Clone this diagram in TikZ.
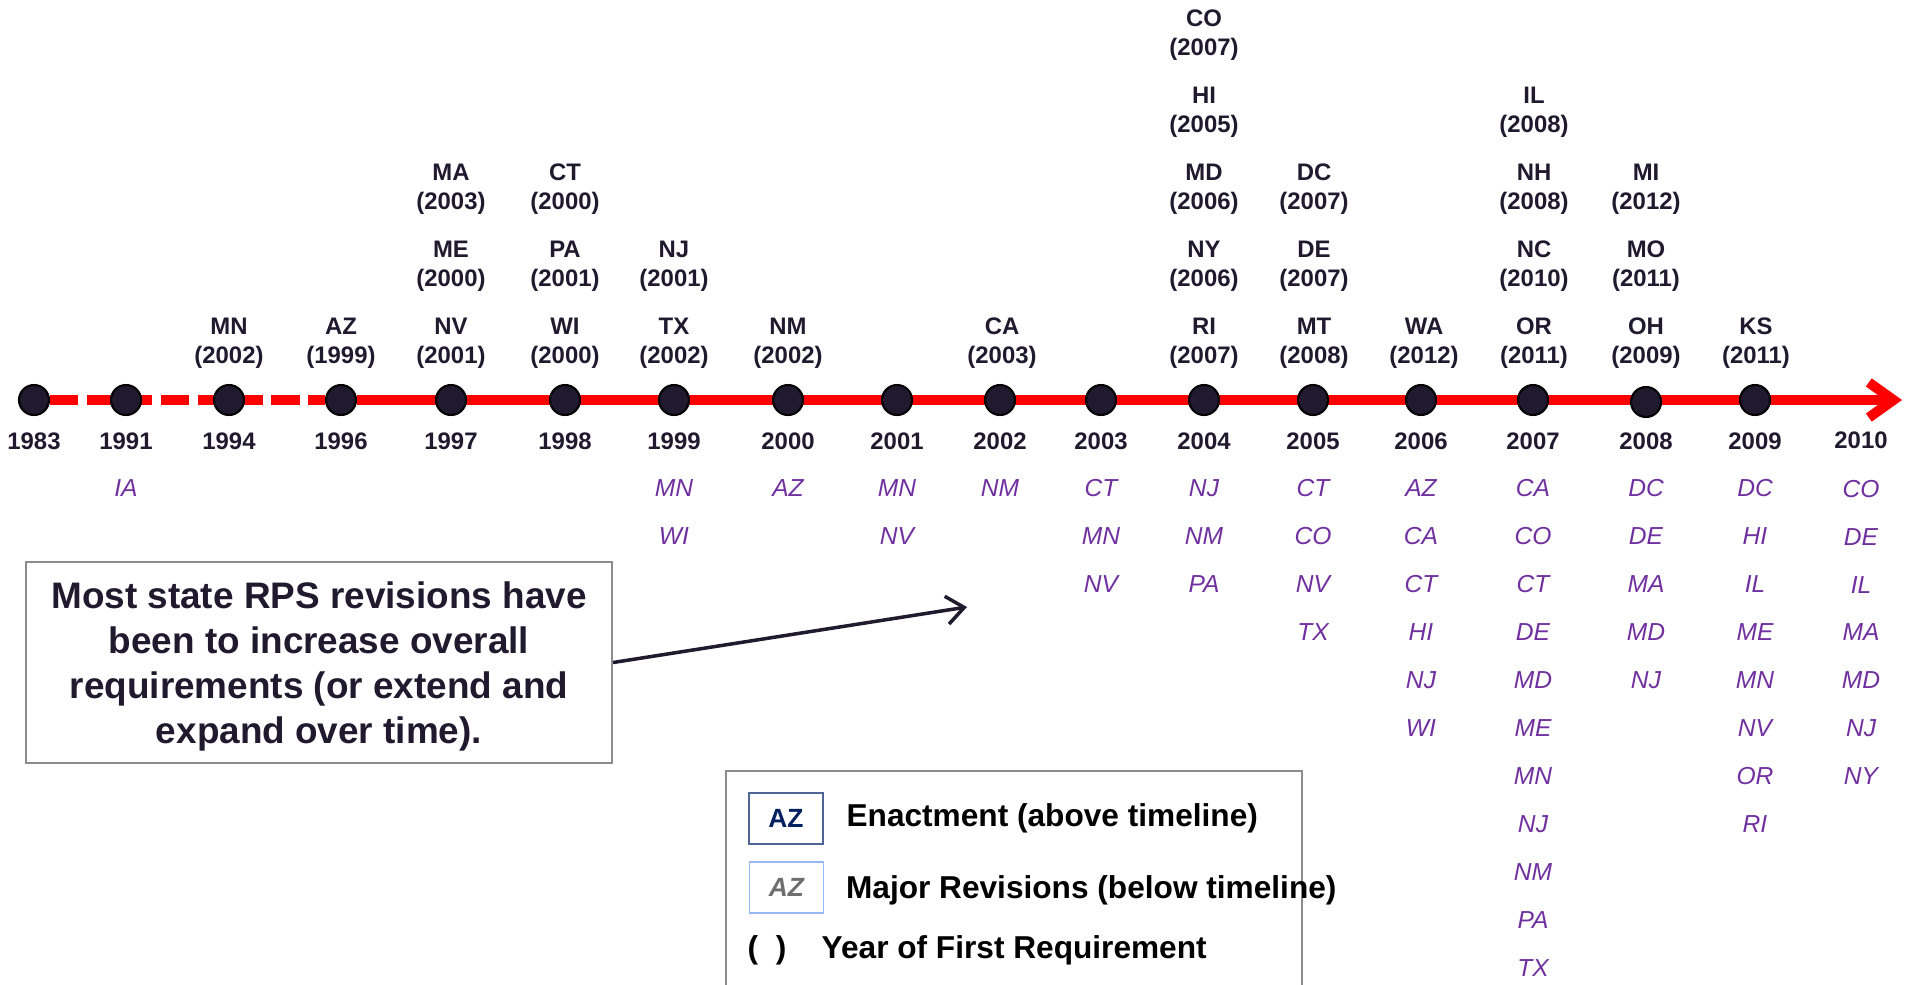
\documentclass[tikz,border=0pt]{standalone}
\usepackage{fontspec}
\setmainfont{Liberation Sans}
\usetikzlibrary{arrows.meta,backgrounds,positioning}

\definecolor{tlred}{RGB}{255,0,0}
\definecolor{ink}{RGB}{31,26,46}
\definecolor{revpurple}{RGB}{112,48,160}
\definecolor{navyblue}{RGB}{0,32,96}
\definecolor{framegray}{RGB}{140,140,140}
\definecolor{boxblue}{RGB}{150,185,245}
\definecolor{boxnavy}{RGB}{80,100,150}
\definecolor{keygray}{RGB}{110,110,110}

\tikzset{
  dot/.style={circle, draw=black, line width=0.6pt, fill=ink, minimum size=0.30cm, inner sep=0pt},
  yearlabel/.style={font=\fontsize{6.8}{8}\selectfont\bfseries, text=ink, inner sep=0pt},
  enact/.style={font=\fontsize{6.8}{8.25}\selectfont\bfseries, text=ink, align=center, inner sep=0pt},
  revision/.style={font=\fontsize{7}{13.65}\selectfont\itshape, text=revpurple, align=center, inner sep=0pt},
  timeline/.style={tlred, line width=2.85pt},
  callout/.style={draw=framegray, line width=0.6pt, fill=white, minimum width=5.86cm, minimum height=2.01cm,
    align=center, inner sep=0pt, text=ink, font=\fontsize{10.5}{12.8}\selectfont\bfseries},
  pointer/.style={ink, line width=1pt, -{Straight Barb[length=5pt,width=8pt]}},
  keybox/.style={minimum width=0.74cm, minimum height=0.51cm, inner sep=0pt, line width=0.5pt,
    font=\fontsize{7.5}{9}\selectfont\bfseries},
  legendtext/.style={font=\fontsize{9}{11}\selectfont\bfseries, text=black, inner sep=0pt, anchor=west},
}

\begin{document}
\begin{tikzpicture}
  \useasboundingbox (0,0) rectangle (19.12,-9.84);

  % Timeline dots
  \node[dot] (y1983) at (0.34,-4.00) {};
  \node[dot] (y1991) at (1.26,-4.00) {};
  \node[dot] (y1994) at (2.29,-4.00) {};
  \node[dot] (y1996) at (3.41,-4.00) {};
  \node[dot] (y1997) at (4.51,-4.00) {};
  \node[dot] (y1998) at (5.65,-4.00) {};
  \node[dot] (y1999) at (6.74,-4.00) {};
  \node[dot] (y2000) at (7.88,-4.00) {};
  \node[dot] (y2001) at (8.97,-4.00) {};
  \node[dot] (y2002) at (10.00,-4.00) {};
  \node[dot] (y2003) at (11.01,-4.00) {};
  \node[dot] (y2004) at (12.04,-4.00) {};
  \node[dot] (y2005) at (13.13,-4.00) {};
  \node[dot] (y2006) at (14.21,-4.00) {};
  \node[dot] (y2007) at (15.33,-4.00) {};
  \node[dot] (y2008) at (16.46,-4.02) {};
  \node[dot] (y2009) at (17.55,-4.00) {};
  \coordinate (tlend) at (19.02,-4.00);

  % Red line under the dots
  \begin{scope}[on background layer]
    \draw[timeline, dash pattern=on 8pt off 2.5pt] (y1983) -- (y1996);
    \draw[timeline, -{Straight Barb[length=7pt,width=10pt]}] (y1996) -- (tlend);
  \end{scope}

  % Year labels
  \node[yearlabel, below=0.165cm of y1983] (l1983) {1983};
  \node[yearlabel, below=0.165cm of y1991] (l1991) {1991};
  \node[yearlabel, below=0.165cm of y1994] (l1994) {1994};
  \node[yearlabel, below=0.165cm of y1996] (l1996) {1996};
  \node[yearlabel, below=0.165cm of y1997] (l1997) {1997};
  \node[yearlabel, below=0.165cm of y1998] (l1998) {1998};
  \node[yearlabel, below=0.165cm of y1999] (l1999) {1999};
  \node[yearlabel, below=0.165cm of y2000] (l2000) {2000};
  \node[yearlabel, below=0.165cm of y2001] (l2001) {2001};
  \node[yearlabel, below=0.165cm of y2002] (l2002) {2002};
  \node[yearlabel, below=0.165cm of y2003] (l2003) {2003};
  \node[yearlabel, below=0.165cm of y2004] (l2004) {2004};
  \node[yearlabel, below=0.165cm of y2005] (l2005) {2005};
  \node[yearlabel, below=0.165cm of y2006] (l2006) {2006};
  \node[yearlabel, below=0.165cm of y2007] (l2007) {2007};
  \node[yearlabel, below=0.145cm of y2008] (l2008) {2008};
  \node[yearlabel, below=0.165cm of y2009] (l2009) {2009};
  \node[yearlabel] (l2010) at (18.61,-4.40) {2010};

  % Enactments (above timeline)
  \node[enact] (enMN) at (2.29,-3.435) {MN\\(2002)};
  \node[enact] (enAZ) at (3.41,-3.435) {AZ\\(1999)};
  \node[enact] (enNV) at (4.51,-3.435) {NV\\(2001)};
  \node[enact] (enME) at (4.51,-2.665) {ME\\(2000)};
  \node[enact] (enMA) at (4.51,-1.895) {MA\\(2003)};
  \node[enact] (enWI) at (5.65,-3.435) {WI\\(2000)};
  \node[enact] (enPA) at (5.65,-2.665) {PA\\(2001)};
  \node[enact] (enCT) at (5.65,-1.895) {CT\\(2000)};
  \node[enact] (enTX) at (6.74,-3.435) {TX\\(2002)};
  \node[enact] (enNJ) at (6.74,-2.665) {NJ\\(2001)};
  \node[enact] (enNM) at (7.88,-3.435) {NM\\(2002)};
  \node[enact] (enCA) at (10.02,-3.435) {CA\\(2003)};
  \node[enact] (enRI) at (12.04,-3.435) {RI\\(2007)};
  \node[enact] (enNY) at (12.04,-2.665) {NY\\(2006)};
  \node[enact] (enMD) at (12.04,-1.895) {MD\\(2006)};
  \node[enact] (enHI) at (12.04,-1.125) {HI\\(2005)};
  \node[enact] (enCO) at (12.04,-0.355) {CO\\(2007)};
  \node[enact] (enMT) at (13.14,-3.435) {MT\\(2008)};
  \node[enact] (enDE) at (13.14,-2.665) {DE\\(2007)};
  \node[enact] (enDC) at (13.14,-1.895) {DC\\(2007)};
  \node[enact] (enWA) at (14.24,-3.435) {WA\\(2012)};
  \node[enact] (enOR) at (15.34,-3.435) {OR\\(2011)};
  \node[enact] (enNC) at (15.34,-2.665) {NC\\(2010)};
  \node[enact] (enNH) at (15.34,-1.895) {NH\\(2008)};
  \node[enact] (enIL) at (15.34,-1.125) {IL\\(2008)};
  \node[enact] (enOH) at (16.46,-3.435) {OH\\(2009)};
  \node[enact] (enMO) at (16.46,-2.665) {MO\\(2011)};
  \node[enact] (enMI) at (16.46,-1.895) {MI\\(2012)};
  \node[enact] (enKS) at (17.56,-3.435) {KS\\(2011)};

  % Major revisions (below timeline)
  \node[revision, below=0.28cm of l1991] (rev1991) {IA};
  \node[revision, below=0.28cm of l1999] (rev1999) {MN\\WI};
  \node[revision, below=0.28cm of l2000] (rev2000) {AZ};
  \node[revision, below=0.28cm of l2001] (rev2001) {MN\\NV};
  \node[revision, below=0.28cm of l2002] (rev2002) {NM};
  \node[revision, below=0.28cm of l2003] (rev2003) {CT\\MN\\NV};
  \node[revision, below=0.28cm of l2004] (rev2004) {NJ\\NM\\PA};
  \node[revision, below=0.28cm of l2005] (rev2005) {CT\\CO\\NV\\TX};
  \node[revision, below=0.28cm of l2006] (rev2006) {AZ\\CA\\CT\\HI\\NJ\\WI};
  \node[revision, below=0.28cm of l2007] (rev2007) {CA\\CO\\CT\\DE\\MD\\ME\\MN\\NJ\\NM\\PA\\TX};
  \node[revision, below=0.28cm of l2008] (rev2008) {DC\\DE\\MA\\MD\\NJ};
  \node[revision, below=0.28cm of l2009] (rev2009) {DC\\HI\\IL\\ME\\MN\\NV\\OR\\RI};
  \node[revision, below=0.30cm of l2010] (rev2010) {CO\\DE\\IL\\MA\\MD\\NJ\\NY};

  % Callout
  \node[callout] (note) at (3.19,-6.625)
    {\rule{0pt}{9.7pt}Most state RPS revisions have\\been to increase overall\\requirements (or extend and\\expand over time).};
  \coordinate (notetip) at (9.67,-6.07);
  \draw[pointer] (note.east) -- (notetip);

  % Legend
  \draw[framegray, line width=0.6pt] (7.26,-9.95) |- (13.02,-7.71) -- (13.02,-9.95);
  \node[keybox, draw=boxnavy, text=navyblue] (keyenact) at (7.86,-8.185) {AZ};
  \node[keybox, draw=boxblue, text=keygray, font=\fontsize{7.5}{9}\selectfont\bfseries\itshape] (keyrev) at (7.865,-8.875) {AZ};
  \node[legendtext, right=0.22cm of keyenact] (txtenact) {Enactment (above timeline)};
  \node[legendtext, right=0.21cm of keyrev, yshift=-0.025cm] (txtrev) {Major Revisions (below timeline)};
  \node[legendtext, anchor=center] (parens) at (7.67,-9.50) {(~~)};
  \node[legendtext, right=0.34cm of parens] (txtfirst) {Year of First Requirement};
\end{tikzpicture}
\end{document}
